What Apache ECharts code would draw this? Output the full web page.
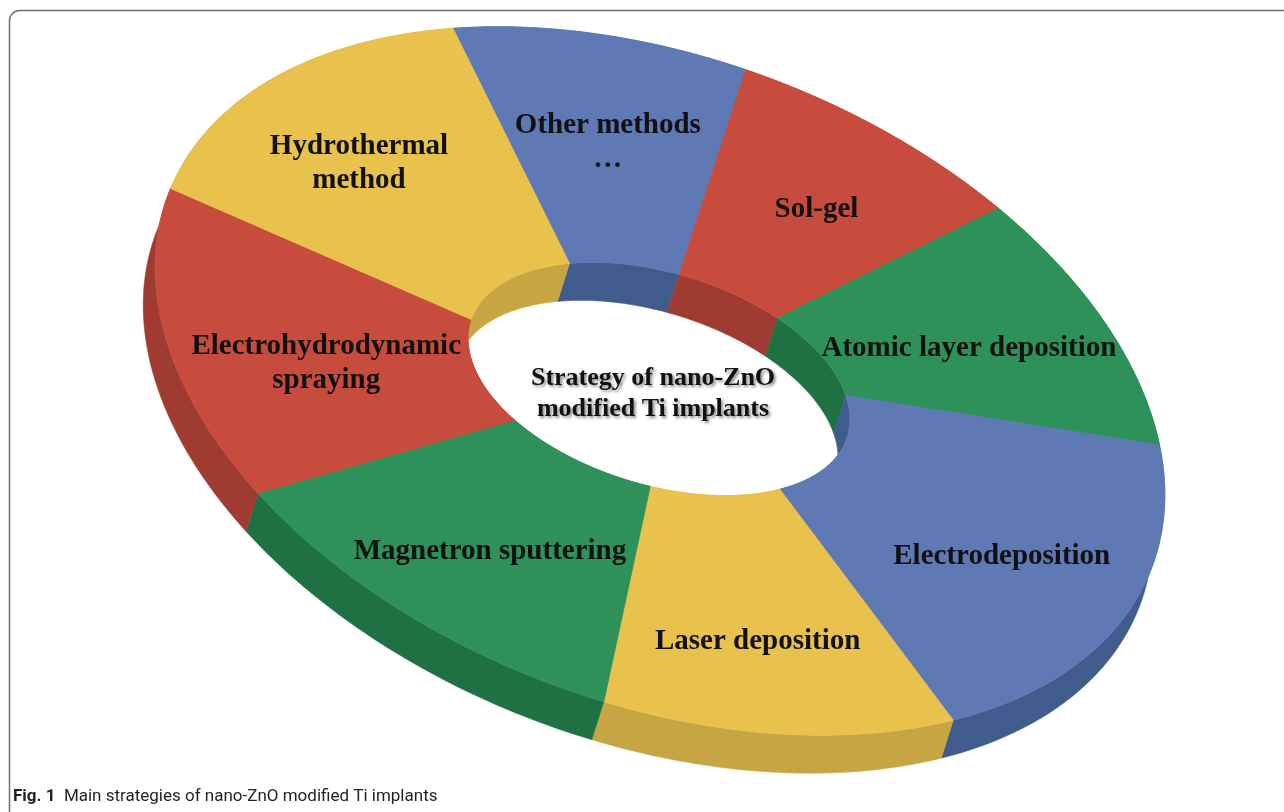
<!DOCTYPE html>
<html>
<head>
<meta charset="utf-8">
<title>Main strategies of nano-ZnO modified Ti implants</title>
<script src="https://cdn.jsdelivr.net/npm/echarts@6/dist/echarts.min.js"></script>
<style>
  html, body { margin: 0; padding: 0; background: #fff; }
  #chart { width: 1284px; height: 812px; }
</style>
</head>
<body>
<div id="chart"></div>
<script>
// slices, clockwise starting from "Other methods" (angles, sum = 360)
const categories = [
  'Other methods\n…',
  'Sol-gel',
  'Atomic layer deposition',
  'Electrodeposition',
  'Laser deposition',
  'Magnetron sputtering',
  'Electrohydrodynamic\nspraying',
  'Hydrothermal\nmethod'
];
const values = [34, 32.3, 39.6, 62.8, 41.9, 46.4, 51.4, 51.6];
const centerTitle = 'Strategy of nano-ZnO\nmodified Ti implants';
const caption = 'Main strategies of nano-ZnO modified Ti implants';

const faceColors = ['#5E79B4', '#C84C3E', '#2E9159', '#5E79B4', '#E8C24C', '#2E9159', '#C84C3E', '#E8C24C'];
const sideColors = ['#405C8C', '#A03B32', '#1F7144', '#405C8C', '#C8A543', '#1F7144', '#A03B32', '#C8A543'];
// how far out (inner edge -> outer edge) each label sits
const labelDepth = [0.57, 0.57, 0.52, 0.57, 0.57, 0.52, 0.48, 0.63];

// tilted ring seen from above: two ellipses + extrusion vector for the walls
const START_ANGLE = -127.3;
const geo = {
  outer: { cx: 660, cy: 381, a: 526, b: 322, rot: 20.8 },
  inner: { cx: 659, cy: 379, a: 197, b: 106, rot: 17 },
  depth: [-12, 38]
};

const total = values.reduce((s, v) => s + v, 0);
const starts = [];
values.reduce((acc, v) => { starts.push(acc); return acc + v / total * 360; }, START_ANGLE);
function range(i) {
  return [starts[i], starts[i] + values[i] / total * 360];
}

function pt(e, deg, down) {
  const t = deg * Math.PI / 180;
  const r = e.rot * Math.PI / 180;
  const X = e.a * Math.cos(t), Y = e.b * Math.sin(t);
  return [
    e.cx + X * Math.cos(r) - Y * Math.sin(r) + (down ? geo.depth[0] : 0),
    e.cy + X * Math.sin(r) + Y * Math.cos(r) + (down ? geo.depth[1] : 0)
  ];
}

function arc(e, t0, t1, down) {
  const n = Math.max(2, Math.ceil(Math.abs(t1 - t0)));
  const pts = [];
  for (let k = 0; k <= n; k++) pts.push(pt(e, t0 + (t1 - t0) * k / n, down));
  return pts;
}

function renderWalls(params) {
  const i = params.dataIndex;
  const [t0, t1] = range(i);
  const c = sideColors[i];
  return {
    type: 'group',
    children: [
      { type: 'polygon', shape: { points: arc(geo.outer, t0, t1).concat(arc(geo.outer, t1, t0, true)) },
        style: { fill: c, stroke: c, lineWidth: 0.5 } },
      { type: 'polygon', shape: { points: arc(geo.inner, t0, t1).concat(arc(geo.inner, t1, t0, true)) },
        style: { fill: c, stroke: c, lineWidth: 0.5 } }
    ]
  };
}

function renderFaces(params) {
  const i = params.dataIndex;
  const [t0, t1] = range(i);
  return {
    type: 'polygon',
    shape: { points: arc(geo.outer, t0, t1).concat(arc(geo.inner, t1, t0)) },
    style: { fill: faceColors[i], stroke: faceColors[i], lineWidth: 0.8 }
  };
}

function renderLabels(params) {
  const i = params.dataIndex;
  const [t0, t1] = range(i);
  const tm = (t0 + t1) / 2;
  const o = pt(geo.outer, tm), n = pt(geo.inner, tm);
  const f = labelDepth[i];
  return {
    type: 'text',
    x: n[0] + (o[0] - n[0]) * f,
    y: n[1] + (o[1] - n[1]) * f + 10,
    style: {
      text: categories[i],
      fontFamily: '"Liberation Serif", "DejaVu Serif", serif',
      fontWeight: 'bold',
      fontSize: 29,
      lineHeight: 34,
      fill: '#111',
      align: 'center',
      verticalAlign: 'middle'
    }
  };
}

const chart = echarts.init(document.getElementById('chart'));

chart.setOption({
  backgroundColor: '#fff',
  animation: false,
  graphic: [
    {
      type: 'rect', z: 0,
      shape: { x: 9.5, y: 10.5, width: 1300, height: 840, r: 10 },
      style: { fill: 'none', stroke: '#707070', lineWidth: 1.5 }
    },
    {
      type: 'text', z: 10, x: geo.inner.cx - 6, y: geo.inner.cy + 15,
      style: {
        text: centerTitle,
        fontFamily: '"Liberation Serif", "DejaVu Serif", serif',
        fontWeight: 'bold',
        fontSize: 26,
        lineHeight: 31,
        fill: '#111',
        align: 'center',
        verticalAlign: 'middle',
        textShadowColor: 'rgba(0,0,0,0.45)',
        textShadowBlur: 3,
        textShadowOffsetX: 2,
        textShadowOffsetY: 2
      }
    },
    {
      type: 'text', z: 10, x: 13, y: 797,
      style: {
        text: '{b|Fig. 1}  ' + caption,
        rich: { b: { fontWeight: 'bold', fontFamily: 'Roboto', fontSize: 17, fill: '#231f20' } },
        fontFamily: 'Roboto',
        fontSize: 17,
        fill: '#231f20',
        verticalAlign: 'middle'
      }
    }
  ],
  series: [
    { type: 'custom', name: 'walls', coordinateSystem: 'none', z: 1, silent: true, renderItem: renderWalls, data: values },
    { type: 'custom', name: 'faces', coordinateSystem: 'none', z: 2, silent: true, renderItem: renderFaces, data: values },
    { type: 'custom', name: 'labels', coordinateSystem: 'none', z: 3, silent: true, renderItem: renderLabels, data: values }
  ]
});

window.addEventListener('resize', () => chart.resize());
</script>
</body>
</html>
